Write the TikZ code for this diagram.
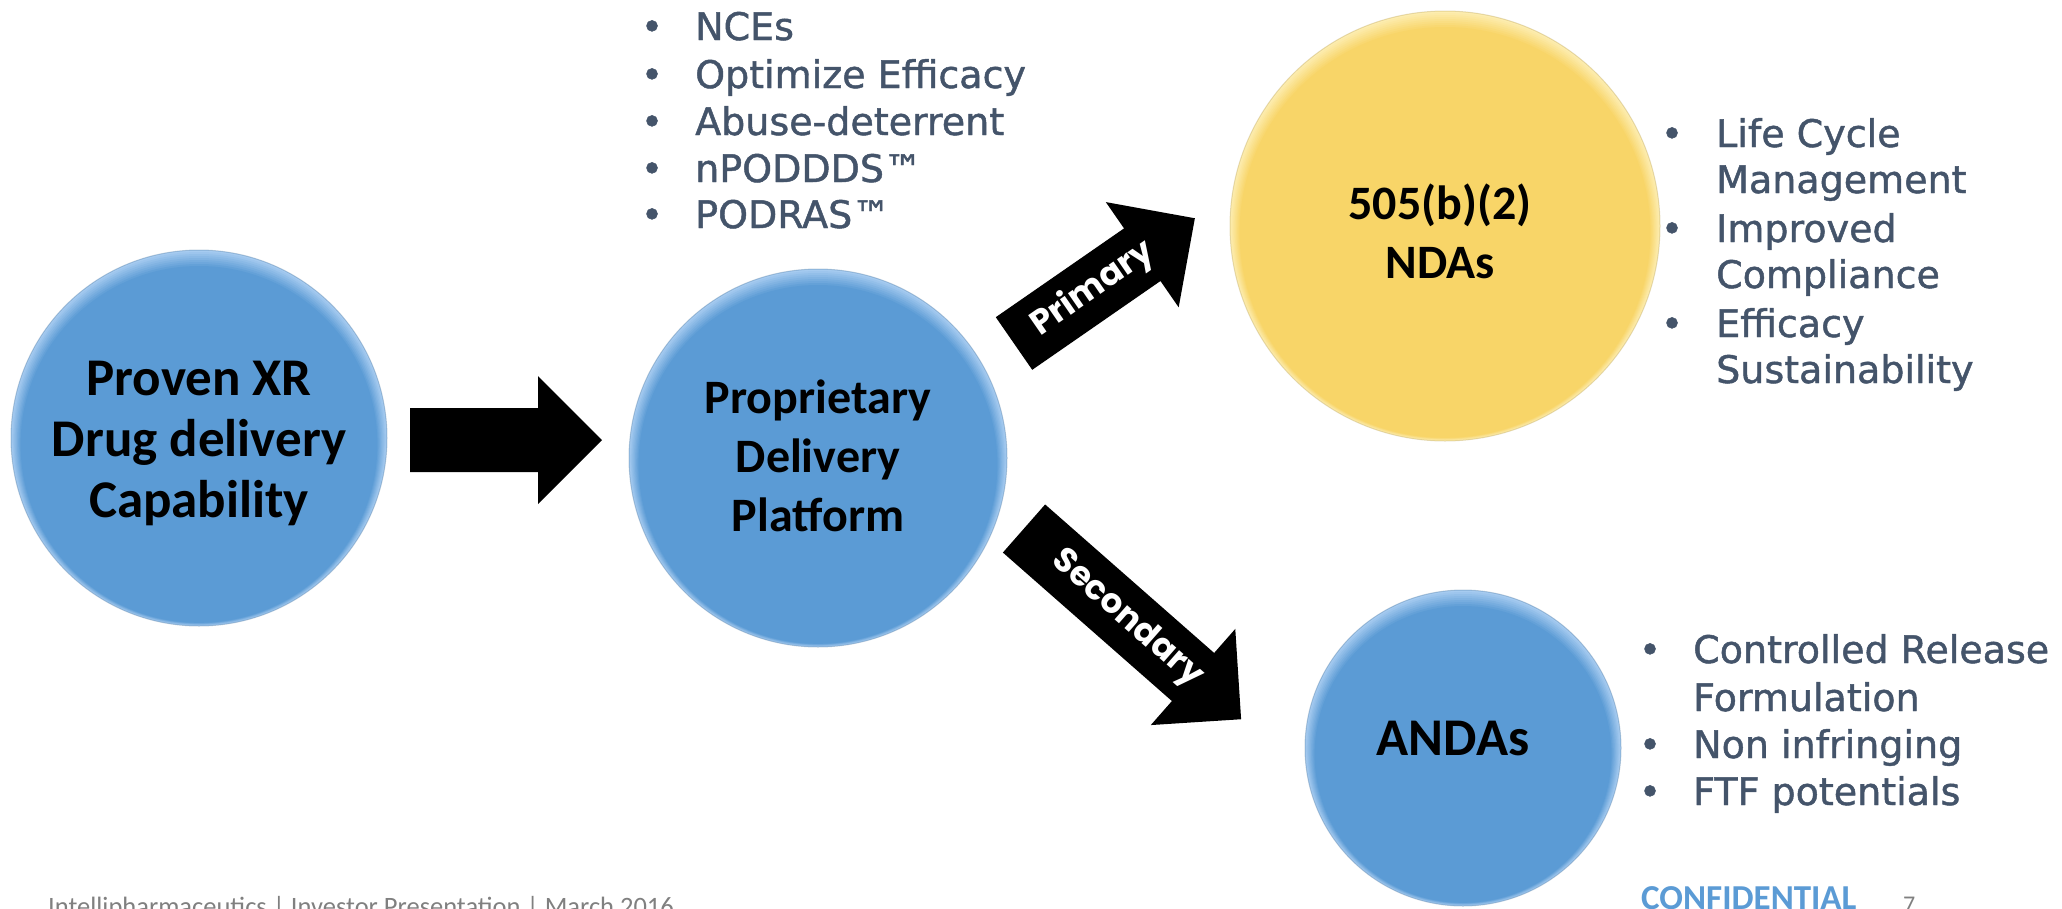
\documentclass[tikz,border=0pt]{standalone}
\usepackage{fontspec}
\setmainfont{Carlito}
\newfontfamily\circfont{Carlito}
\newfontfamily\listfont{DejaVu Sans}[FakeBold=1.2]
\newfontfamily\arrowfont{Poppins}
\usetikzlibrary{calc}

\definecolor{ballblue}{HTML}{5B9BD5}
\definecolor{ballbluelt}{HTML}{A6CBF0}
\definecolor{ballgold}{HTML}{F8D568}
\definecolor{ballgoldlt}{HTML}{FDEDB0}
\definecolor{slate}{HTML}{44546A}
\definecolor{footgray}{HTML}{808080}

\tikzset{
  ballText/.style={font=\circfont\bfseries\fontsize{48}{59}\selectfont, align=center, text=black, inner sep=0pt},
  bigBallText/.style={ballText, font=\circfont\bfseries\fontsize{53}{61}\selectfont},
  item/.style={font=\listfont\fontsize{38}{47}\selectfont, text=slate, inner sep=0pt, anchor=base west},
  dot/.style={font=\listfont\fontsize{38}{47}\selectfont, text=slate, inner sep=0pt, anchor=base},
  arrowText/.style={font=\arrowfont\bfseries\fontsize{34}{38}\selectfont, text=white, inner sep=0pt},
  footText/.style={font=\fontsize{26.5}{30}\selectfont, text=footgray, inner sep=0pt, anchor=base west},
}

% bevelled disc: centre, radius (pt), base colour, rim colour
\newcommand\ball[4]{%
  \fill[#4] (#1) circle (#2pt);
  \foreach \k in {1,...,8}{%
    \pgfmathsetmacro\mixp{100-\k*12.5}%
    \fill[#4!\mixp!#3] ($(#1)+(0,\k*0.8)$) circle ({#2pt-\k*1.2pt});
  }%
  \draw[#3!75!black, opacity=0.35, line width=1pt] (#1) circle (#2pt);
}

% block arrow starting at a named tail point: tail, angle, length
\newcommand\blockarrow[3]{%
  \begin{scope}[shift={(#1)}, rotate=#2]
    \fill[black] (0pt,-32pt) -- ({#3pt-64pt},-32pt) -- ({#3pt-64pt},-64pt)
      -- (#3pt,0pt) -- ({#3pt-64pt},64pt) -- ({#3pt-64pt},32pt) -- (0pt,32pt) -- cycle;
  \end{scope}}

\begin{document}
\begin{tikzpicture}[x=1pt,y=-1pt]
\useasboundingbox (0,0) rectangle (2062,908);
\fill[white] (0,0) rectangle (2062,908);

% discs
\ball{199,438}{188}{ballblue}{ballbluelt}
\ball{818,458}{189}{ballblue}{ballbluelt}
\ball{1445,226}{215}{ballgold}{ballgoldlt}
\ball{1463,748}{158}{ballblue}{ballbluelt}

\node[bigBallText] (proven) at (199,443) {Proven XR\\Drug delivery\\Capability};
\node[ballText] (platform) at (818,456) {Proprietary\\Delivery\\Platform};
\node[ballText] (nda) at (1440,231) {505(b)(2)\\NDAs};
\node[bigBallText] (anda) at (1453,738) {ANDAs};

% arrows between the discs
\coordinate (capTail) at (410,440);
\coordinate (priTail) at (1014,343.5);
\coordinate (secTail) at (1024,528.5);
\blockarrow{capTail}{0}{192}
\blockarrow{priTail}{34.7}{220}
\blockarrow{secTail}{-41.3}{289}
\node[arrowText, rotate=34.7] (primary) at ($(priTail)+(34.7:96pt)$) {Primary};
\node[arrowText, rotate=-41.3] (secondary) at ($(secTail)+(-41.3:137pt)$) {Secondary};

% platform features
\node[dot] (t1d) at (652,40) {•};  \node[item] (t1) at (695,40) {NCEs};
\node[dot] (t2d) at (652,88) {•};  \node[item] (t2) at (695,88) {Optimize Efficacy};
\node[dot] (t3d) at (652,135) {•}; \node[item] (t3) at (695,135) {Abuse-deterrent};
\node[dot] (t4d) at (652,182) {•}; \node[item] (t4) at (695,182) {nPODDDS™};
\node[dot] (t5d) at (652,228) {•}; \node[item] (t5) at (695,228) {PODRAS™};

% 505(b)(2) benefits
\node[dot] (r1d) at (1672,147) {•}; \node[item] (r1) at (1716,147) {Life Cycle};
\node[item] (r1b) at (1716,193) {Management};
\node[dot] (r2d) at (1672,242) {•}; \node[item] (r2) at (1716,242) {Improved};
\node[item] (r2b) at (1716,288) {Compliance};
\node[dot] (r3d) at (1672,337) {•}; \node[item] (r3) at (1716,337) {Efficacy};
\node[item] (r3b) at (1716,383) {Sustainability};

% ANDA benefits
\node[dot] (b1d) at (1650,663) {•}; \node[item] (b1) at (1693,663) {Controlled Release};
\node[item] (b1b) at (1693,711) {Formulation};
\node[dot] (b2d) at (1650,758) {•}; \node[item] (b2) at (1693,758) {Non infringing};
\node[dot] (b3d) at (1650,805) {•}; \node[item] (b3) at (1693,805) {FTF potentials};

% footer
\node[footText] (foot) at (48,915) {Intellipharmaceutics | Investor Presentation | March 2016};
\node[inner sep=0pt, anchor=base west, font=\bfseries\fontsize{35}{40}\selectfont, text=ballblue] (conf) at (1641,909) {CONFIDENTIAL};
\node[footText, font=\fontsize{24}{28}\selectfont] (page) at (1903,912) {7};
\end{tikzpicture}
\end{document}
